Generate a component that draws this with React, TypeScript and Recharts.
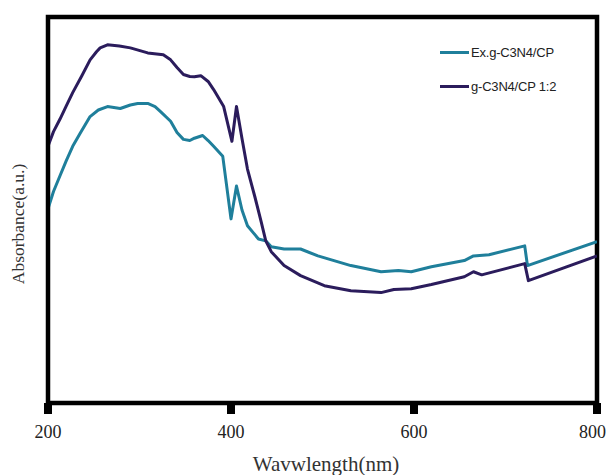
import React from 'react';
import { LineChart, Line, XAxis, YAxis, ReferenceArea, Legend } from 'recharts';

// Ex.g-C3N4/CP (teal)
const exNm = [200, 206, 213, 220, 227, 235, 246, 255, 265, 279, 290, 298, 309, 317, 323, 334, 341, 348, 355, 360, 369, 375, 381, 391, 395, 400, 406, 412, 418, 430, 438, 444, 458, 476, 495, 531, 564, 583, 597, 619, 655, 665, 682, 721, 724, 800];
const exAbs = [50.3, 54.8, 58.8, 62.8, 66.5, 69.8, 74.2, 75.9, 76.8, 76.3, 77.2, 77.6, 77.6, 76.8, 75.5, 73.0, 70.1, 68.3, 68.0, 68.6, 69.3, 68.0, 66.5, 63.9, 56.7, 47.7, 56.2, 50.0, 45.9, 42.5, 42.0, 40.5, 39.9, 39.9, 38.1, 35.6, 34.0, 34.3, 34.0, 35.3, 36.9, 38.1, 38.4, 40.7, 35.6, 41.8];

// g-C3N4/CP 1:2 (dark purple)
const cpNm = [200, 206, 213, 220, 227, 237, 246, 253, 257, 265, 278, 290, 309, 326, 334, 341, 348, 355, 360, 367, 375, 381, 392, 401, 406, 412, 418, 426, 433, 438, 444, 458, 476, 502, 531, 564, 578, 597, 619, 655, 665, 674, 721, 725, 800];
const cpAbs = [66.5, 70.3, 73.5, 77.0, 80.4, 84.8, 88.9, 91.0, 92.0, 92.8, 92.5, 92.0, 90.7, 90.2, 88.9, 86.9, 85.1, 84.6, 84.5, 84.8, 83.3, 81.2, 76.8, 67.8, 76.8, 68.5, 60.6, 53.5, 46.9, 42.0, 39.2, 35.6, 33.0, 30.4, 29.1, 28.6, 29.4, 29.6, 30.7, 32.7, 34.0, 33.2, 36.1, 31.7, 38.1];

const xTicks = [200, 400, 600, 800];
const seriesNames = ['Ex.g-C3N4/CP', 'g-C3N4/CP 1:2'];
const seriesColors = ['#1f7f9b', '#2b1c5c'];

const exData = exNm.map((nm, i) => ({ nm, v: exAbs[i] }));
const cpData = cpNm.map((nm, i) => ({ nm, v: cpAbs[i] }));

const LegendContent = () => (
  <div style={{ fontFamily: '"Liberation Sans", Arial, sans-serif', fontSize: 13, color: '#222', letterSpacing: -0.2 }}>
    {seriesNames.map((name, i) => (
      <div key={name} style={{ display: 'flex', alignItems: 'center', height: 34 }}>
        <div style={{ width: 29, height: 3, background: seriesColors[i], marginRight: 2 }} />
        <span>{name}</span>
      </div>
    ))}
  </div>
);

export default function App() {
  return (
    <div style={{ position: 'absolute', left: 0, top: 0, width: 606, height: 475, background: '#fff' }}>
      <LineChart width={606} height={475} data={exData} margin={{ top: 17, right: 9, bottom: 0, left: 0 }}>
        <XAxis
          dataKey="nm"
          type="number"
          domain={[200, 800]}
          ticks={xTicks}
          allowDataOverflow
          height={72}
          axisLine={{ stroke: '#000', strokeWidth: 4 }}
          tickLine={{ stroke: '#000', strokeWidth: 8 }}
          tickSize={11}
          tickMargin={11}
          tick={{ fontFamily: '"Liberation Serif", serif', fontSize: 18, fill: '#222' }}
          label={{
            content: () => (
              <text x={326} y={464} textAnchor="middle" dominantBaseline="central" fontFamily='"Liberation Serif", serif' fontSize={21} fill="#333">
                Wavwlength(nm)
              </text>
            ),
          }}
        />
        <YAxis
          type="number"
          domain={[0, 100]}
          width={48}
          tick={false}
          tickLine={false}
          axisLine={{ stroke: '#000', strokeWidth: 4 }}
          label={{
            content: () => (
              <text x={18} y={224} transform="rotate(-90 18 224)" textAnchor="middle" dominantBaseline="central" fontFamily='"Liberation Serif", serif' fontSize={17.5} fill="#333">
                Absorbance(a.u.)
              </text>
            ),
          }}
        />
        <ReferenceArea x1={200} x2={800} y1={0} y2={100} fill="none" stroke="#000" strokeWidth={4.5} ifOverflow="visible" />
        <Legend
          content={<LegendContent />}
          wrapperStyle={{ position: 'absolute', left: 440, top: 35, width: 160, height: 0, overflow: 'visible', bottom: 'auto', right: 'auto' }}
        />
        <Line data={exData} dataKey="v" name={seriesNames[0]} stroke={seriesColors[0]} strokeWidth={3} strokeLinejoin="round" dot={false} isAnimationActive={false} type="linear" />
        <Line data={cpData} dataKey="v" name={seriesNames[1]} stroke={seriesColors[1]} strokeWidth={3} strokeLinejoin="round" dot={false} isAnimationActive={false} type="linear" />
      </LineChart>
    </div>
  );
}
